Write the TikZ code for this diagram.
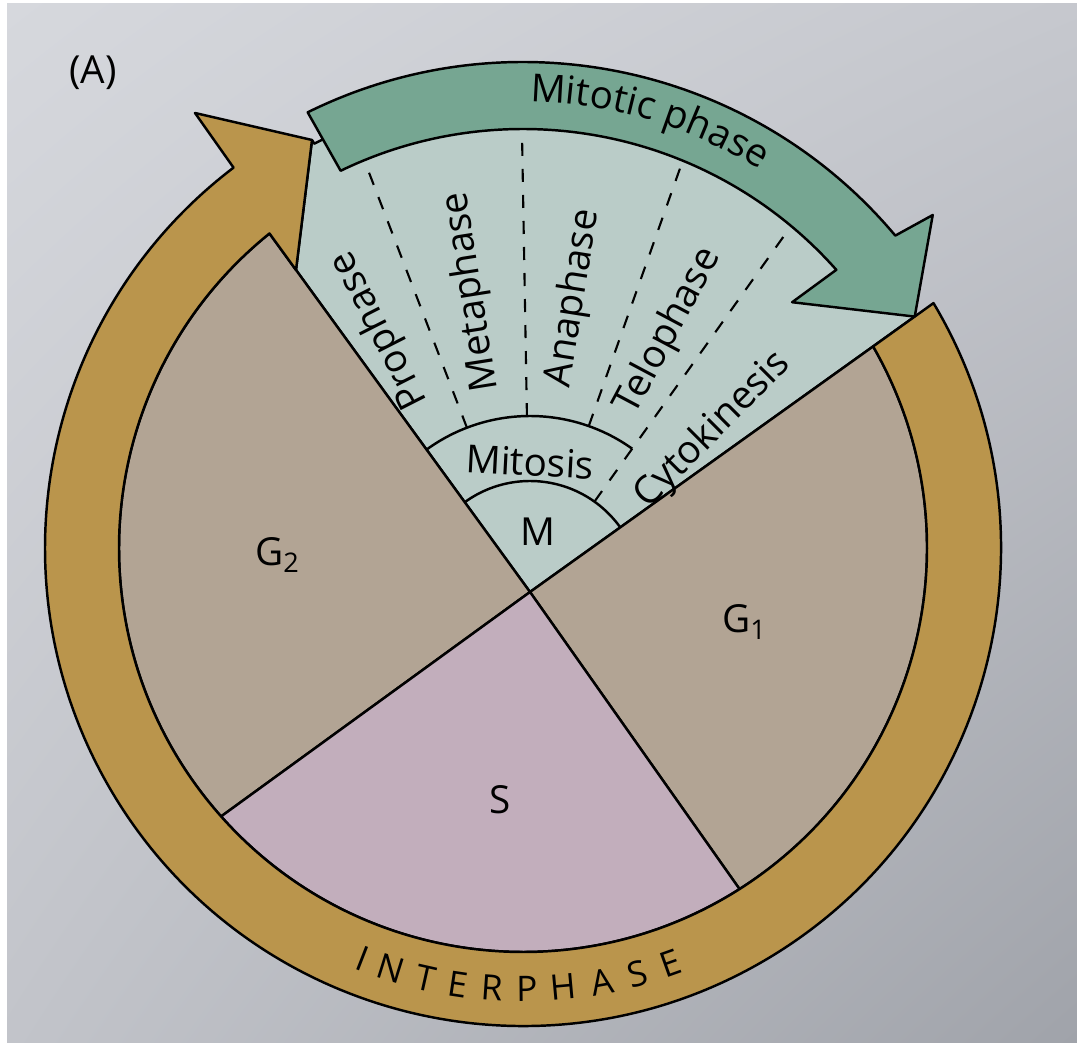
\documentclass[tikz,border=0pt]{standalone}
\usepackage{fontspec}
\setmainfont{Open Sans}
\usetikzlibrary{decorations.text,shadings}
\definecolor{bgtl}{RGB}{214,216,221}
\definecolor{bgtr}{RGB}{198,200,206}
\definecolor{bgbl}{RGB}{194,196,202}
\definecolor{bgbr}{RGB}{160,163,170}
\definecolor{goldring}{RGB}{186,149,76}
\definecolor{gphase}{RGB}{178,164,148}
\definecolor{sphase}{RGB}{194,174,188}
\definecolor{mphase}{RGB}{186,204,200}
\definecolor{mitarrow}{RGB}{118,166,146}

\begin{document}
\begin{tikzpicture}[line width=0.7pt, line join=round,
    lbl/.style={font=\fontsize{11}{13}\selectfont, inner sep=0pt},
    inter/.style={font=\fontsize{10}{12}\selectfont, inner sep=0pt},
    cut/.style={dash pattern=on 3.7pt off 3.7pt, line width=0.6pt}]
\useasboundingbox (0,0) rectangle (10.77,-10.43);
\fill[white] (0,0) rectangle (10.77,-10.43);
\shade[upper left=bgtl, upper right=bgtr, lower left=bgbl, lower right=bgbr] (0.07,-0.04) rectangle (10.77,-10.43);

\coordinate (C) at (5.23,-5.48);
\coordinate (V) at (5.30,-5.92);
\coordinate (T) at (3.12,-1.40);
\coordinate (E) at (2.96,-2.70);
\coordinate (B) at (1.95,-1.13);

% mitotic sector
\draw[fill=mphase] (V) -- ([shift={(30.57:4.55)}]C) arc[start angle=30.57, end angle=117.3, radius=4.55] -- (T) -- (E) -- cycle;
% interphase sectors
\draw[fill=gphase] (V) -- ([shift={(-57.59:4.04)}]C) arc[start angle=-57.59, end angle=29.93, radius=4.04] -- cycle;
\draw[fill=gphase] (V) -- ([shift={(128.87:4.04)}]C) arc[start angle=128.87, end angle=221.64, radius=4.04] -- cycle;
\draw[fill=sphase] (V) -- ([shift={(221.64:4.04)}]C) arc[start angle=221.64, end angle=302.41, radius=4.04] -- cycle;

\draw ([shift={(126:1.11)}]V) arc[start angle=126, end angle=35.6, radius=1.11];
\draw ([shift={(126:1.76)}]V) arc[start angle=126, end angle=54.5, radius=1.76];
\foreach \a/\r in {111/1.76, 91/1.76, 70.5/1.76, 54.5/1.11}
  \draw[cut] ([shift={(\a:\r)}]V) -- ([shift={(\a:4.7)}]V);

% interphase arrow
\draw[fill=goldring] ([shift={(29.93:4.04)}]C) -- ([shift={(30.82:4.78)}]C)
  arc[start angle=30.82, end angle=-232.73, radius=4.78] -- (B) -- (T) -- (E)
  -- ([shift={(128.87:4.04)}]C) arc[start angle=-231.13, end angle=29.93, radius=4.04] -- cycle;
% mitotic phase arrow
\draw[fill=mitarrow] ([shift={(116.3:4.86)}]C) arc[start angle=116.3, end angle=40, radius=4.86]
  -- ([shift={(39.1:5.28)}]C) -- ([shift={(30.57:4.55)}]C) -- ([shift={(42.4:3.645)}]C)
  -- ([shift={(41.6:4.19)}]C) arc[start angle=41.6, end angle=115.8, radius=4.19] -- cycle;

\path[decorate, decoration={text along path, text align=center,
  text={|\fontsize{11}{13}\selectfont|Mitotic phase}}]
  ([shift={(103.5:4.46)}]C) arc[start angle=103.5, end angle=43.5, radius=4.46];

\node[lbl] (fig) at (0.93,-0.73) {(A)};
\node[lbl, rotate=117] (pro) at ([shift={(119.8:3.02)}]V) {Prophase};
\node[lbl, rotate=99] (meta) at ([shift={(101:3.06)}]V) {Metaphase};
\node[lbl, rotate=81] (ana) at ([shift={(81.5:2.97)}]V) {Anaphase};
\node[lbl, rotate=62] (telo) at ([shift={(62:2.95)}]V) {Telophase};
\node[lbl, rotate=45] (cyto) at ([shift={(41.5:2.44)}]V) {Cytokinesis};
\node[lbl, rotate=-3] (mit) at (5.30,-4.62) {Mitosis};
\node[lbl] (m) at (5.38,-5.32) {M};
\node[lbl] (g2) at (2.78,-5.55) {G\textsubscript{2}};
\node[lbl] (g1) at (7.45,-6.22) {G\textsubscript{1}};
\node[lbl] (s) at (5.00,-8.00) {S};
\foreach \ch/\a [count=\i] in {I/248.7, N/252.6, T/257.3, E/261.5, R/266.0, P/270.5, H/275.2, A/280.4, S/285.1, E/289.6}
  \node[inter, rotate=\a+90] (ip\i) at ([shift={(\a:4.41)}]C) {\ch};
\end{tikzpicture}
\end{document}
